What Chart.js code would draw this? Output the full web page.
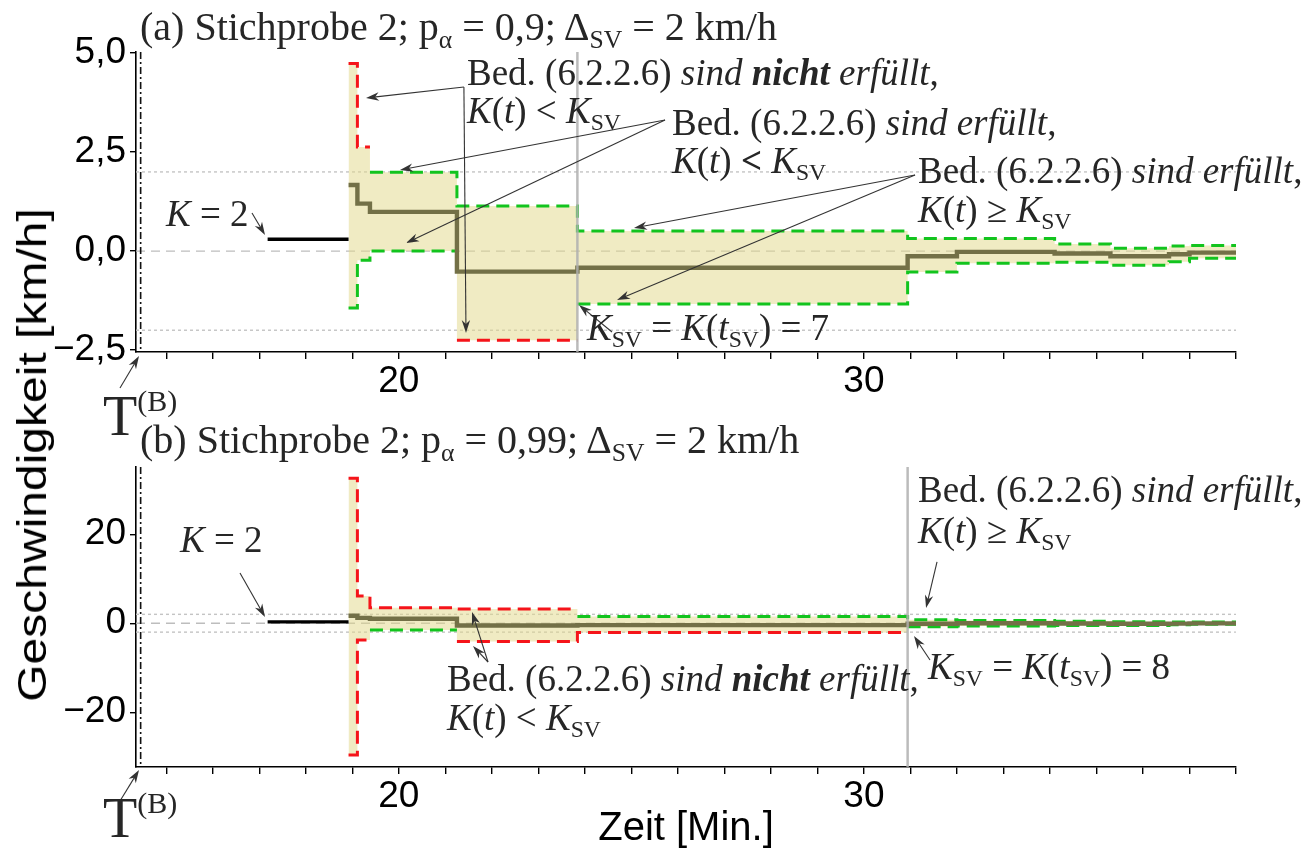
<!DOCTYPE html>
<html>
<head>
<meta charset="utf-8">
<script src="https://cdn.jsdelivr.net/npm/chart.js@4.4.1/dist/chart.umd.min.js"></script>
<style>
  html, body { margin: 0; padding: 0; background: #fff; }
  #wrap { position: relative; width: 1315px; height: 849px; overflow: hidden; }
  canvas { position: absolute; left: 0; }
  .t { position: absolute; font-family: 'Liberation Serif', serif; font-size: 37px; line-height: 40px; color: #262626; white-space: nowrap; }
  .ttl { position: absolute; font-family: 'Liberation Serif', serif; font-size: 40px; line-height: 44px; color: #262626; white-space: nowrap; }
  .t sub, .ttl sub { font-size: 0.64em; vertical-align: -0.3em; line-height: 0; font-style: normal; }
  .tb { position: absolute; font-family: 'Liberation Serif', serif; font-size: 56px; line-height: 56px; color: #262626; white-space: nowrap; }
  .tb span { font-size: 30px; position: relative; top: -24px; }
  .ax { position: absolute; font-family: 'Liberation Sans', Arial, sans-serif; font-size: 40px; line-height: 40px; color: #000; white-space: nowrap; }
</style>
</head>
<body>
<div id="wrap">
  <canvas id="cA" width="1315" height="420" style="top:0"></canvas>
  <canvas id="cB" width="1315" height="434" style="top:415px"></canvas>

  <div class="ttl" style="left:140px;top:4.5px">(a) Stichprobe 2; p<sub>α</sub> = 0,9; Δ<sub>SV</sub> = 2 km/h</div>
  <div class="t" style="left:467px;top:52.5px">Bed. (6.2.2.6) <i>sind <b>nicht</b> erfüllt</i>,</div>
  <div class="t" style="left:467px;top:90.5px"><i>K</i>(<i>t</i>) &lt; <i>K</i><sub>SV</sub></div>
  <div class="t" style="left:672px;top:102.5px">Bed. (6.2.2.6) <i>sind erfüllt</i>,</div>
  <div class="t" style="left:672px;top:140.5px"><i>K</i>(<i>t</i>) <b>&lt;</b> <i>K</i><sub>SV</sub></div>
  <div class="t" style="left:918px;top:150.5px">Bed. (6.2.2.6) <i>sind erfüllt</i>,</div>
  <div class="t" style="left:918px;top:190px"><i>K</i>(<i>t</i>) ≥ <i>K</i><sub>SV</sub></div>
  <div class="t" style="left:587px;top:307.5px"><i>K</i><sub>SV</sub> = <i>K</i>(<i>t</i><sub>SV</sub>) = 7</div>
  <div class="t" style="left:166px;top:193.5px"><i>K</i> = 2</div>
  <div class="tb" style="left:103px;top:388px">T<span>(B)</span></div>

  <div class="ttl" style="left:140px;top:417.5px">(b) Stichprobe 2; p<sub>α</sub> = 0,99; Δ<sub>SV</sub> = 2 km/h</div>
  <div class="t" style="left:180px;top:520px"><i>K</i> = 2</div>
  <div class="t" style="left:918px;top:469.5px">Bed. (6.2.2.6) <i>sind erfüllt</i>,</div>
  <div class="t" style="left:918px;top:511px"><i>K</i>(<i>t</i>) ≥ <i>K</i><sub>SV</sub></div>
  <div class="t" style="left:447px;top:658.5px">Bed. (6.2.2.6) <i>sind <b>nicht</b> erfüllt</i>,</div>
  <div class="t" style="left:447px;top:697.5px"><i>K</i>(<i>t</i>) &lt; <i>K</i><sub>SV</sub></div>
  <div class="t" style="left:928px;top:646.5px"><i>K</i><sub>SV</sub> = <i>K</i>(<i>t</i><sub>SV</sub>) = 8</div>
  <div class="tb" style="left:103px;top:790px">T<span>(B)</span></div>

  <div class="ax" style="left:32px;top:455px;transform:translate(-50%,-50%) rotate(-90deg) scaleX(1.2)">Geschwindigkeit [km/h]</div>
  <div class="ax" style="left:686px;top:806px;transform:translateX(-50%)">Zeit [Min.]</div>
</div>

<script>
// Zeitpunkte, an denen sich K(t) bzw. die Schranken ändern [Min.]; letzter Wert = Ende
const stepTimes = [18.92, 19.11, 19.38, 21.25, 23.84, 30.94, 32.0, 34.1, 35.3, 36.56, 37.0, 38.0];
// Geschwindigkeit vor dem ersten Sprung (K = 2)
const preTimes = [17.18, 18.92];
const preSpeed = [0.30];
// Mittlere Geschwindigkeit je Stufe [km/h]
const meanSpeed = [1.67, 1.20, 0.99, -0.52, -0.42, -0.13, -0.02, -0.06, -0.13, -0.08, -0.04];

// (a) p = 0,9: obere / untere Schranke und Zustand (g = erfüllt, r = nicht erfüllt)
const upperA = [4.74, 2.63, 1.99, 1.14, 0.51, 0.32, 0.32, 0.18, 0.07, 0.13, 0.14];
const lowerA = [-1.44, -0.23, 0.00, -2.25, -1.34, -0.53, -0.31, -0.28, -0.36, -0.27, -0.18];
const upperStateA = ['r', 'r', 'g', 'g', 'g', 'g', 'g', 'g', 'g', 'g', 'g'];
const lowerStateA = ['g', 'g', 'g', 'r', 'g', 'g', 'g', 'g', 'g', 'g', 'g'];

// (b) p = 0,99
const upperB = [32.6, 6.1, 3.5, 3.2, 1.5, 0.8, 0.6, 0.45, 0.35, 0.3, 0.25];
const lowerB = [-29.6, -3.75, -1.5, -4.1, -2.1, -0.8, -0.6, -0.5, -0.5, -0.35, -0.25];
const upperStateB = ['r', 'r', 'r', 'r', 'g', 'g', 'g', 'g', 'g', 'g', 'g'];
const lowerStateB = ['r', 'r', 'g', 'r', 'r', 'g', 'g', 'g', 'g', 'g', 'g'];

const deltaSV = 2;            // Toleranz Δ_SV [km/h]
const tSV = [23.84, 30.94];   // Zeitpunkt t_SV in (a) und (b)
const tB = 14.45;             // T^(B)
const xTickLabels = [20, 30];

const X_MIN = 14.35, X_MAX = 38.0;
const GREEN = '#12c41e', RED = '#f5141a', OLIVE = '#737047';
const BAND = 'rgba(226,216,140,0.52)';

// Stufenfunktion als Punktfolge (Wert gilt bis zum nächsten Zeitpunkt)
function steps(times, vals) {
  const pts = vals.map((v, i) => ({ x: times[i], y: v }));
  pts.push({ x: times[vals.length], y: vals[vals.length - 1] });
  return pts;
}
// Nur die Abschnitte einer Schranke mit dem gewünschten Zustand
function boundPath(times, vals, states, want) {
  const pts = [];
  for (let i = 0; i < vals.length; i++) {
    if (states[i] !== want) continue;
    pts.push({ x: times[i], y: vals[i] });
    if (i + 1 >= vals.length || states[i + 1] !== want) {
      pts.push({ x: times[i + 1], y: vals[i] });
      pts.push({ x: times[i + 1], y: null });
    }
  }
  return pts;
}

function fmtComma(v) {
  return (v < 0 ? '\u2212' : '') + Math.abs(v).toFixed(1).replace('.', ',');
}
function fmtInt(v) {
  return (v < 0 ? '\u2212' : '') + Math.abs(v);
}

function arrow(ctx, x0, y0, x1, y1) {
  const a = Math.atan2(y1 - y0, x1 - x0);
  const L = 13, W = 4.2, c = Math.cos(a), s = Math.sin(a);
  ctx.beginPath();
  ctx.moveTo(x0, y0);
  ctx.lineTo(x1 - L * 0.6 * c, y1 - L * 0.6 * s);
  ctx.stroke();
  ctx.beginPath();
  ctx.moveTo(x1, y1);
  ctx.lineTo(x1 - L * c + W * s, y1 - L * s - W * c);
  ctx.lineTo(x1 - L * 0.7 * c, y1 - L * 0.7 * s);
  ctx.lineTo(x1 - L * c - W * s, y1 - L * s + W * c);
  ctx.closePath();
  ctx.fill();
}

const marks = {
  id: 'marks',
  afterDatasetsDraw(chart, args, opts) {
    const { ctx, chartArea: a, scales: { x } } = chart;
    ctx.save();
    const xs = x.getPixelForValue(opts.tSV);
    ctx.strokeStyle = 'rgba(175,175,175,0.85)';
    ctx.lineWidth = 2.5;
    ctx.beginPath(); ctx.moveTo(xs, a.top); ctx.lineTo(xs, a.bottom); ctx.stroke();

    const xb = x.getPixelForValue(opts.tB);
    ctx.strokeStyle = '#111';
    ctx.lineWidth = 1.6;
    ctx.setLineDash([7, 3, 2, 3]);
    ctx.beginPath(); ctx.moveTo(xb, a.top); ctx.lineTo(xb, a.bottom); ctx.stroke();
    ctx.setLineDash([]);
    ctx.restore();
  },
  afterDraw(chart, args, opts) {
    const { ctx, scales: { x, y } } = chart;
    ctx.save();
    ctx.strokeStyle = '#333';
    ctx.fillStyle = '#333';
    ctx.lineWidth = 1.1;
    for (const p of opts.arrows) {
      arrow(ctx, x.getPixelForValue(p[0]), y.getPixelForValue(p[1]),
                 x.getPixelForValue(p[2]), y.getPixelForValue(p[3]));
    }
    ctx.restore();
  }
};

function buildChart(canvasId, cfg) {
  const line = (data, color, width, dash, extra) => Object.assign({
    data, borderColor: color, borderWidth: width, borderDash: dash || [],
    stepped: 'before', pointRadius: 0, fill: false, spanGaps: false,
    borderJoinStyle: 'miter', borderCapStyle: 'butt'
  }, extra || {});

  const ref = (v, dash, color) => line([{ x: X_MIN, y: v }, { x: X_MAX, y: v }], color, 1.4, dash, { stepped: false });

  const datasets = [
    line(steps(preTimes, preSpeed), '#000', 3.4),
    line(steps(stepTimes, meanSpeed), OLIVE, 4.4),
    line(boundPath(stepTimes, cfg.upper, cfg.upperState, 'g'), GREEN, 3, [13, 7]),
    line(boundPath(stepTimes, cfg.upper, cfg.upperState, 'r'), RED, 3, [13, 7]),
    line(boundPath(stepTimes, cfg.lower, cfg.lowerState, 'g'), GREEN, 3, [13, 7]),
    line(boundPath(stepTimes, cfg.lower, cfg.lowerState, 'r'), RED, 3, [13, 7]),
    line(steps(stepTimes, cfg.upper), 'rgba(0,0,0,0)', 0, [], { fill: '+1', backgroundColor: BAND }),
    line(steps(stepTimes, cfg.lower), 'rgba(0,0,0,0)', 0),
    ref(deltaSV, [3, 3], '#c4c4c4'),
    ref(-deltaSV, [3, 3], '#c4c4c4'),
    ref(0, [9, 6], '#bdbdbd')
  ];

  return new Chart(document.getElementById(canvasId), {
    type: 'line',
    data: { datasets },
    plugins: [marks],
    options: {
      responsive: false,
      animation: false,
      devicePixelRatio: 1,
      layout: { padding: { top: 52, right: 79, left: 0, bottom: 0 } },
      plugins: {
        legend: { display: false },
        tooltip: { enabled: false },
        marks: { tSV: cfg.tSV, tB: tB, arrows: cfg.arrows }
      },
      scales: {
        x: {
          type: 'linear', min: X_MIN, max: X_MAX,
          afterFit: (s) => { s.height = cfg.xHeight; },
          border: { display: true, color: '#000', width: 1.6 },
          grid: { drawOnChartArea: false, drawTicks: true, tickLength: 7, color: '#000', lineWidth: 1.4 },
          ticks: {
            stepSize: 1, includeBounds: false, autoSkip: false, maxRotation: 0, padding: 1,
            color: '#000', font: { family: 'Liberation Sans', size: 37 },
            callback: (v) => xTickLabels.includes(v) ? String(v) : ''
          }
        },
        y: {
          type: 'linear', min: cfg.yMin, max: cfg.yMax,
          afterFit: (s) => { s.width = 136; },
          border: { display: true, color: '#000', width: 1.6 },
          grid: { drawOnChartArea: false, drawTicks: true, tickLength: 6, color: '#000', lineWidth: 1.4 },
          ticks: {
            stepSize: cfg.yStep, includeBounds: false, padding: 4,
            color: '#000', font: { family: 'Liberation Sans', size: 37 },
            callback: cfg.fmt
          }
        }
      }
    }
  });
}

// (a) p = 0,9
buildChart('cA', {
  upper: upperA, lower: lowerA, upperState: upperStateA, lowerState: lowerStateA,
  yMin: -2.55, yMax: 5.03, yStep: 2.5, fmt: fmtComma, tSV: tSV[0], xHeight: 68,
  arrows: [
    [16.844, 0.962, 17.124, 0.406],
    [21.40, 4.146, 19.295, 3.868],
    [21.40, 4.146, 21.445, -2.07],
    [25.724, 3.312, 20.026, 2.049],
    [25.724, 3.312, 20.155, 0.204],
    [31.099, 1.922, 25.057, 0.583],
    [31.099, 1.922, 24.692, -1.236],
    [24.584, -2.044, 23.875, -1.362],
    [14.006, -3.459, 14.415, -2.651]
  ]
});

// (b) p = 0,99
buildChart('cB', {
  upper: upperB, lower: lowerB, upperState: upperStateB, lowerState: lowerStateB,
  yMin: -32.3, yMax: 35.1, yStep: 20, fmt: fmtInt, tSV: tSV[1], xHeight: 82,
  arrows: [
    [16.586, 11.29, 17.124, 1.40],
    [21.918, -8.71, 21.574, 2.52],
    [21.918, -8.71, 21.596, -5.12],
    [31.572, 13.76, 31.336, 3.42],
    [31.421, -8.26, 31.077, -2.87],
    [14.006, -39.94, 14.415, -32.97]
  ]
});
</script>
</body>
</html>
